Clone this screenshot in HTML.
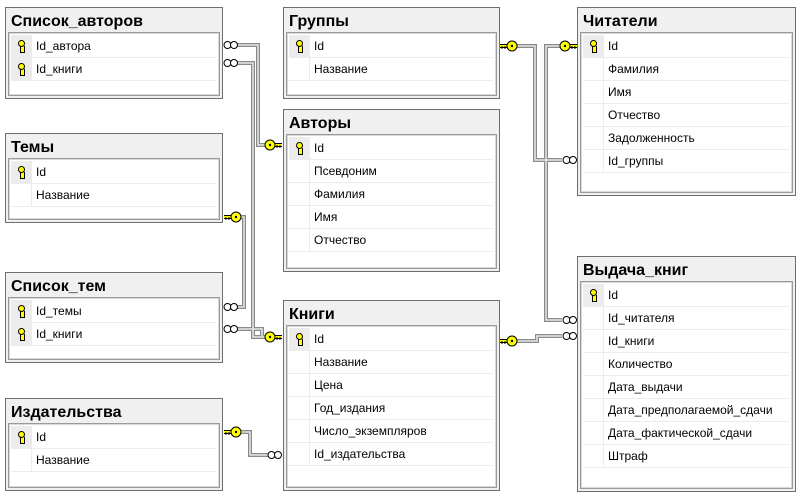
<!DOCTYPE html>
<html><head><meta charset="utf-8"><style>
body{margin:0;width:803px;height:501px;background:#fff;position:relative;overflow:hidden;font-family:"Liberation Sans","DejaVu Sans",sans-serif}
.t{position:absolute;background:#f0f0f0;border:1px solid #6e6e6e;box-sizing:border-box}
.h{position:absolute;left:5px;top:5px;font-weight:bold;font-size:16px;color:#000;white-space:nowrap}
.b{position:absolute;left:2px;right:2px;top:24px;bottom:2px;background:#fff;border:1px solid #9a9a9a;box-shadow:inset 0 0 0 1px #d8d8d8;box-sizing:border-box}
.r{position:relative;height:23px;border-bottom:1px solid #ececec;margin:0 3px 0 2px;box-sizing:border-box;font-size:12px;line-height:22px;color:#000}
.r span{position:absolute;left:25px}
.r i{position:absolute;left:0;top:0;width:20px;height:22px;border-right:1px solid #ececec}
.r.k i{background:#ececec}
.r.k i:after{content:"";position:absolute;left:7px;top:5px;width:5px;height:5px;border:1px solid #000;border-radius:50%;background:#ffff00}
.r.k i:before{content:"";position:absolute;left:9px;top:11px;width:3px;height:6px;background:#ffff00;border:1px solid #000;border-top:none}
.r:first-child{margin-top:2px}
</style></head><body>

<div class="t" style="left:5px;top:7px;width:218px;height:92px"><div class="h">Список_авторов</div><div class="b">
<div class="r k"><i></i><span>Id_автора</span></div><div class="r k"><i></i><span>Id_книги</span></div></div></div>

<div class="t" style="left:5px;top:133px;width:218px;height:90px"><div class="h">Темы</div><div class="b">
<div class="r k"><i></i><span>Id</span></div><div class="r"><i></i><span>Название</span></div></div></div>

<div class="t" style="left:5px;top:272px;width:218px;height:91px"><div class="h">Список_тем</div><div class="b">
<div class="r k"><i></i><span>Id_темы</span></div><div class="r k"><i></i><span>Id_книги</span></div></div></div>

<div class="t" style="left:5px;top:398px;width:218px;height:93px"><div class="h">Издательства</div><div class="b">
<div class="r k"><i></i><span>Id</span></div><div class="r"><i></i><span>Название</span></div></div></div>

<div class="t" style="left:283px;top:7px;width:217px;height:92px"><div class="h">Группы</div><div class="b">
<div class="r k"><i></i><span>Id</span></div><div class="r"><i></i><span>Название</span></div></div></div>

<div class="t" style="left:283px;top:109px;width:217px;height:163px"><div class="h">Авторы</div><div class="b">
<div class="r k"><i></i><span>Id</span></div><div class="r"><i></i><span>Псевдоним</span></div><div class="r"><i></i><span>Фамилия</span></div><div class="r"><i></i><span>Имя</span></div><div class="r"><i></i><span>Отчество</span></div></div></div>

<div class="t" style="left:283px;top:300px;width:217px;height:191px"><div class="h">Книги</div><div class="b">
<div class="r k"><i></i><span>Id</span></div><div class="r"><i></i><span>Название</span></div><div class="r"><i></i><span>Цена</span></div><div class="r"><i></i><span>Год_издания</span></div><div class="r"><i></i><span>Число_экземпляров</span></div><div class="r"><i></i><span>Id_издательства</span></div></div></div>

<div class="t" style="left:577px;top:7px;width:219px;height:189px"><div class="h">Читатели</div><div class="b">
<div class="r k"><i></i><span>Id</span></div><div class="r"><i></i><span>Фамилия</span></div><div class="r"><i></i><span>Имя</span></div><div class="r"><i></i><span>Отчество</span></div><div class="r"><i></i><span>Задолженность</span></div><div class="r"><i></i><span>Id_группы</span></div></div></div>

<div class="t" style="left:577px;top:256px;width:219px;height:236px"><div class="h">Выдача_книг</div><div class="b">
<div class="r k"><i></i><span>Id</span></div><div class="r"><i></i><span>Id_читателя</span></div><div class="r"><i></i><span>Id_книги</span></div><div class="r"><i></i><span>Количество</span></div><div class="r"><i></i><span>Дата_выдачи</span></div><div class="r"><i></i><span>Дата_предполагаемой_сдачи</span></div><div class="r"><i></i><span>Дата_фактической_сдачи</span></div><div class="r"><i></i><span>Штраф</span></div></div></div>

<svg width="803" height="501" style="position:absolute;left:0;top:0" xmlns="http://www.w3.org/2000/svg">
<defs>
<g id="key"><line x1="0" y1="0" x2="9" y2="0" stroke="#000" stroke-width="4"/><line x1="0" y1="0" x2="9" y2="0" stroke="#ff0" stroke-width="2"/><line x1="2" y1="0" x2="2" y2="3" stroke="#000"/><line x1="5" y1="0" x2="5" y2="3" stroke="#000"/><circle cx="12" cy="0" r="5" fill="#ff0" stroke="#000"/><circle cx="12" cy="0" r="1.2" fill="#000"/></g>
<g id="inf"><circle cx="4.5" cy="0" r="3.5" fill="#fff" stroke="#000"/><circle cx="11" cy="0" r="3.5" fill="#fff" stroke="#000"/></g>
</defs>
<g fill="none" stroke-linejoin="miter">
<g stroke="#8a8a8a" stroke-width="4">
<polyline points="237,45 258,45 258,145 268,145"/>
<polyline points="237,63 253,63 253,337 268,337"/>
<polyline points="240,217 244,217 244,307 237,307"/>
<polyline points="237,329 262,329 262,337"/>
<polyline points="240,432 250,432 250,455 268,455"/>
<polyline points="516,46 535,46 535,160 562,160"/>
<polyline points="562,46 546,46 546,320 562,320"/>
<polyline points="516,341 537,341 537,336 562,336"/>
</g>
<g stroke="#e8e8e8" stroke-width="1.5">
<polyline points="237,45 258,45 258,145 268,145"/>
<polyline points="237,63 253,63 253,337 268,337"/>
<polyline points="240,217 244,217 244,307 237,307"/>
<polyline points="237,329 262,329 262,337"/>
<polyline points="240,432 250,432 250,455 268,455"/>
<polyline points="516,46 535,46 535,160 562,160"/>
<polyline points="562,46 546,46 546,320 562,320"/>
<polyline points="516,341 537,341 537,336 562,336"/>
</g>
</g>
<use href="#inf" x="223" y="45"/><use href="#inf" x="223" y="63"/>
<use href="#inf" x="223" y="307"/><use href="#inf" x="223" y="329"/>
<use href="#inf" x="267" y="455"/>
<use href="#inf" x="562" y="160"/><use href="#inf" x="562" y="320"/><use href="#inf" x="562" y="336"/>
<use href="#key" transform="translate(282,145) scale(-1,1)"/>
<use href="#key" transform="translate(282,337) scale(-1,1)"/>
<use href="#key" transform="translate(577,46) scale(-1,1)"/>
<use href="#key" transform="translate(224,217)"/>
<use href="#key" transform="translate(224,432)"/>
<use href="#key" transform="translate(500,46)"/>
<use href="#key" transform="translate(500,341)"/>
</svg>
</body></html>
